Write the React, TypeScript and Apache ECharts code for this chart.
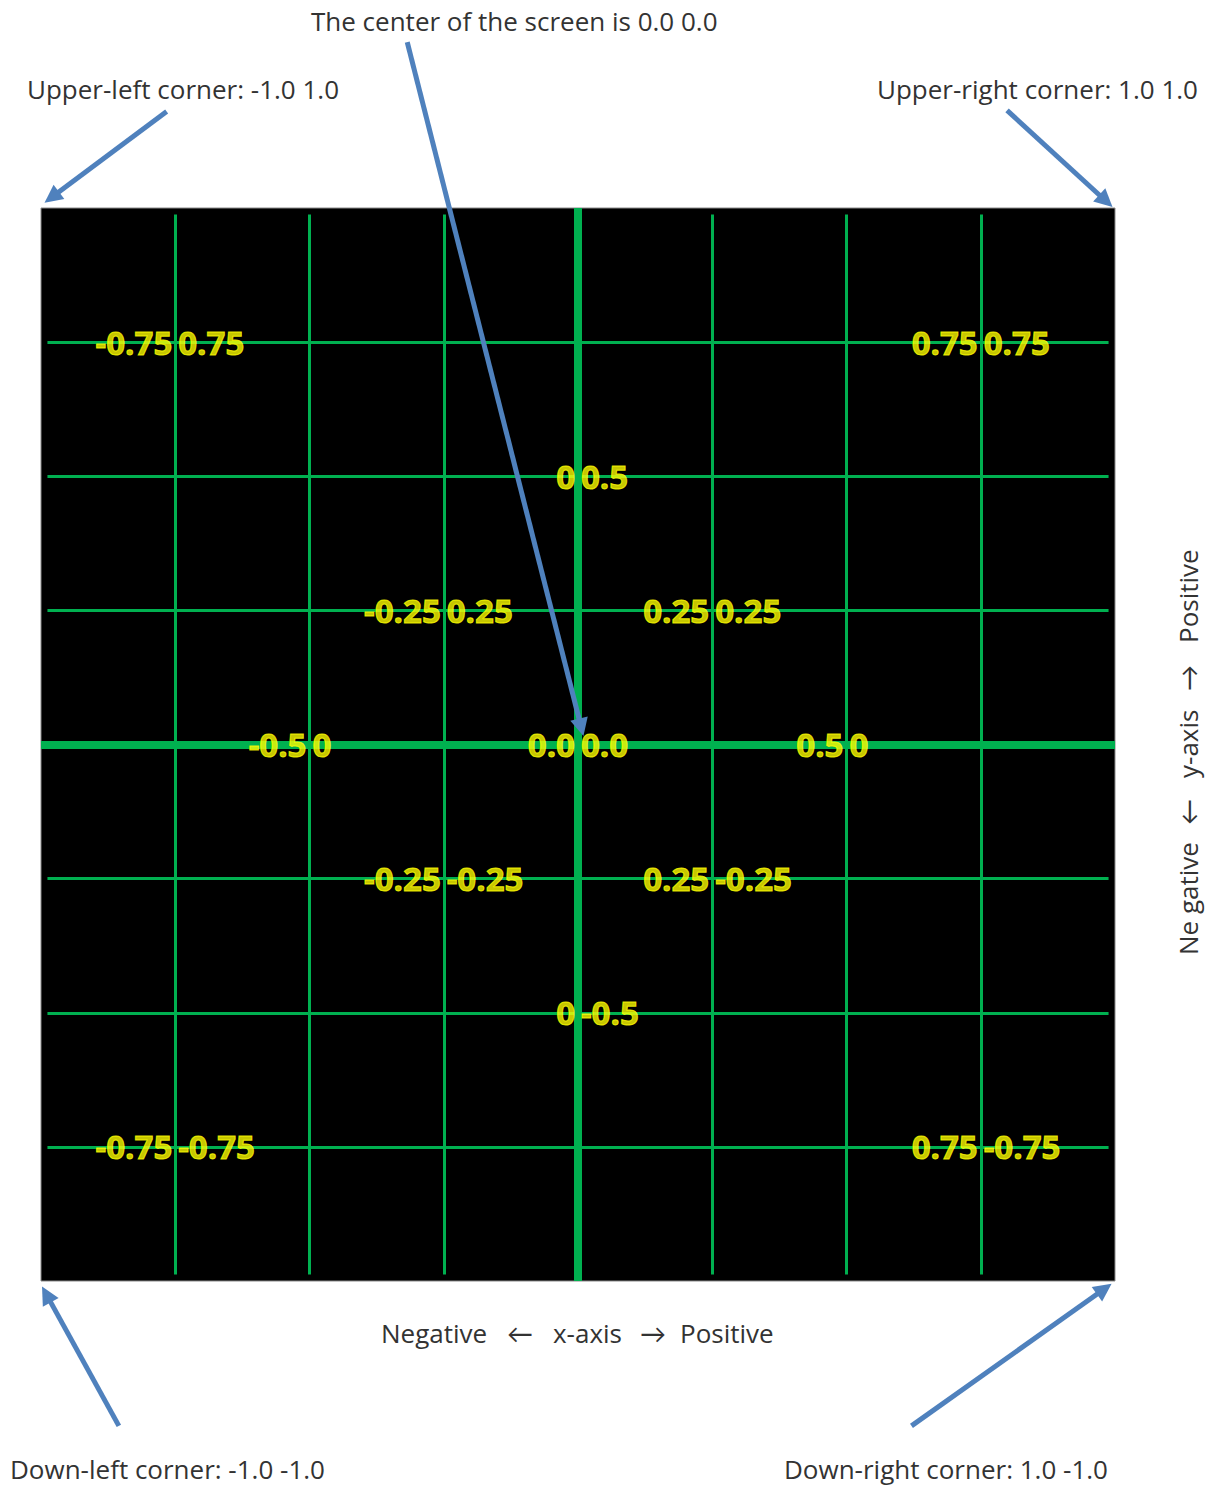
import React, { useEffect, useRef } from "react";
import * as echarts from "echarts";

// Grid line positions (data units)
const gridValues = [-0.75, -0.5, -0.25, 0.25, 0.5, 0.75];
const lineExtent = 0.988;

// Labelled points: x, y and the two label parts
const pointX = [-0.75, 0.75, 0, -0.25, 0.25, -0.5, 0, 0.5, -0.25, 0.25, 0, -0.75, 0.75];
const pointY = [0.75, 0.75, 0.5, 0.25, 0.25, 0, 0, 0, -0.25, -0.25, -0.5, -0.75, -0.75];
const labelX = ["-0.75", "0.75", "0", "-0.25", "0.25", "-0.5", "0.0", "0.5", "-0.25", "0.25", "0", "-0.75", "0.75"];
const labelY = ["0.75", "0.75", "0.5", "0.25", "0.25", "0", "0.0", "0", "-0.25", "-0.25", "-0.5", "-0.75", "-0.75"];

// Annotation arrows (data units): start and tip
const arrowFrom = [
  [-0.766, 1.18],
  [-0.318, 1.309],
  [0.799, 1.182],
  [-0.855, -1.27],
  [0.621, -1.27],
];
const arrowTo = [
  [-0.98, 1.02],
  [0.006, 0.032],
  [0.983, 1.013],
  [-0.99, -1.025],
  [0.98, -1.015],
];

const annotations = [
  { text: "The center of the screen is 0.0 0.0", x: 311, y: 21, align: "left" },
  { text: "Upper-left corner: -1.0 1.0", x: 27, y: 89, align: "left" },
  { text: "Upper-right corner: 1.0 1.0", x: 1198, y: 89, align: "right" },
  { text: "Down-left corner: -1.0 -1.0", x: 10, y: 1469, align: "left" },
  { text: "Down-right corner: 1.0 -1.0", x: 784, y: 1469, align: "left" },
];

// Axis captions split in pieces with their offsets
const xCaption = ["Negative", "\u2190", "x-axis", "\u2192", "Positive"];
const xCaptionX = [381, 507, 553, 640, 680];
const yCaption = ["Ne gative", "\u2190", "y-axis", "\u2192", "Positive"];
const yCaptionOffset = [0, 130, 177, 264, 312];

const GREEN = "#00b050";
const BLUE = "#4f81bd";
const YELLOW = "#ffff00";
const TEXT_FONT = "'Open Sans', Lato, sans-serif";
const CAPTION_FONT = `26px ${TEXT_FONT}`;

export default function App() {
  const ref = useRef<HTMLDivElement>(null);
  useEffect(() => {
    if (!ref.current) return;
    const chart = echarts.init(ref.current, undefined, { renderer: "svg" });
    const labelStyle = {
      color: YELLOW,
      fontFamily: TEXT_FONT,
      fontWeight: "bold" as const,
      fontSize: 33,
      textBorderColor: YELLOW,
      textBorderWidth: 1,
    };
    const pts = pointX.map((x, i) => [x, pointY[i], labelX[i], labelY[i]]);
    chart.setOption({
      animation: false,
      backgroundColor: "#ffffff",
      grid: {
        left: 41,
        top: 208,
        width: 1074,
        height: 1073,
        show: true,
        backgroundColor: "#000000",
        borderColor: "#8a8a8a",
        borderWidth: 1,
      },
      xAxis: {
        type: "value",
        min: -1,
        max: 1,
        interval: 0.25,
        show: false,
        splitLine: { show: false },
      },
      yAxis: {
        type: "value",
        min: -1,
        max: 1,
        interval: 0.25,
        show: false,
        splitLine: { show: false },
      },
      series: [
        {
          type: "lines",
          coordinateSystem: "cartesian2d",
          polyline: false,
          silent: true,
          z: 2,
          lineStyle: { color: GREEN, width: 3, opacity: 1 },
          data: [
            ...gridValues.map((v) => ({ coords: [[v, -lineExtent], [v, lineExtent]] })),
            ...gridValues.map((v) => ({ coords: [[-lineExtent, v], [lineExtent, v]] })),
          ],
        },
        {
          type: "lines",
          coordinateSystem: "cartesian2d",
          silent: true,
          z: 3,
          lineStyle: { color: GREEN, width: 8, opacity: 1 },
          data: [
            { coords: [[0, -1], [0, 1]] },
            { coords: [[-1, 0], [1, 0]] },
          ],
        },
        {
          type: "scatter",
          z: 5,
          symbolSize: 0,
          data: pts,
          label: {
            show: true,
            position: "left",
            distance: 3,
            formatter: (p: any) => p.data[2],
            ...labelStyle,
          },
        },
        {
          type: "scatter",
          z: 5,
          symbolSize: 0,
          data: pts,
          label: {
            show: true,
            position: "right",
            distance: 3,
            formatter: (p: any) => p.data[3],
            ...labelStyle,
          },
        },
        {
          type: "lines",
          coordinateSystem: "cartesian2d",
          clip: false,
          silent: true,
          z: 10,
          symbol: ["none", "triangle"],
          symbolSize: 18,
          lineStyle: { color: BLUE, width: 5, opacity: 1 },
          itemStyle: { color: BLUE },
          data: arrowFrom.map((f, i) => ({ coords: [f, arrowTo[i]] })),
        },
      ],
      graphic: [
        ...annotations.map((a) => ({
          type: "text",
          x: a.x,
          y: a.y,
          z: 20,
          style: {
            text: a.text,
            fill: "#333333",
            font: CAPTION_FONT,
            align: a.align,
            verticalAlign: "middle",
          },
        })),
        ...xCaption.map((t, i) => ({
          type: "text",
          x: xCaptionX[i],
          y: 1333,
          z: 20,
          style: {
            text: t,
            fill: "#333333",
            font: CAPTION_FONT,
            align: "left",
            verticalAlign: "middle",
          },
        })),
        {
          type: "group",
          x: 1188,
          y: 955,
          rotation: Math.PI / 2,
          z: 20,
          children: yCaption.map((t, i) => ({
            type: "text",
            x: yCaptionOffset[i],
            y: 0,
            z: 20,
            style: {
              text: t,
              fill: "#333333",
              font: CAPTION_FONT,
              align: "left",
              verticalAlign: "middle",
            },
          })),
        },
      ],
    });
    return () => chart.dispose();
  }, []);
  return (
    <div
      ref={ref}
      style={{ position: "absolute", left: 0, top: 0, width: 1208, height: 1488 }}
    />
  );
}
